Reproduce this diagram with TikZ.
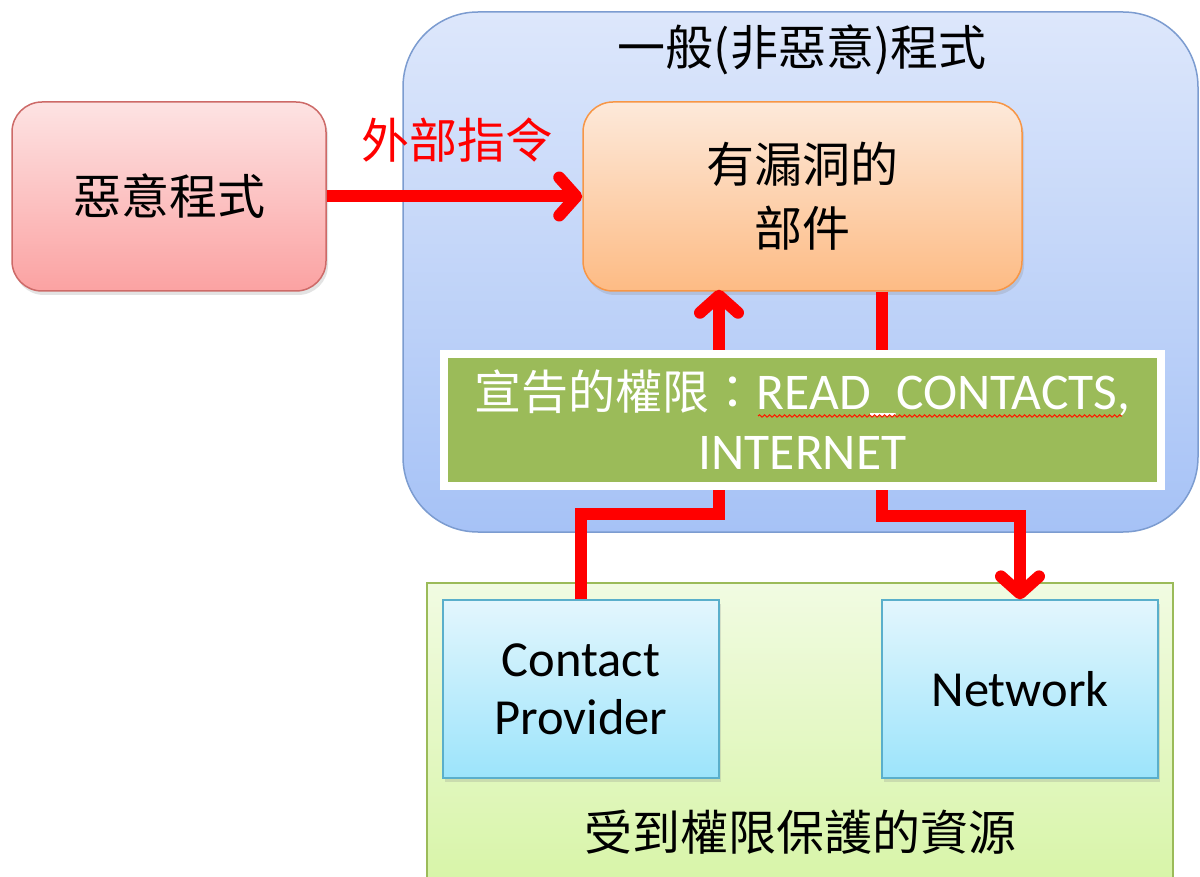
\documentclass[tikz,border=0pt]{standalone}
\usepackage{fontspec}
\setmainfont{Carlito}
\newfontfamily\cjk{Noto Sans CJK TC}
\usetikzlibrary{arrows.meta,shadows,decorations.pathmorphing}
\definecolor{bluetop}{HTML}{DDE7FB}
\definecolor{bluebot}{HTML}{A6C2F6}
\definecolor{bluebd}{HTML}{7C9CD0}
\definecolor{redtop}{HTML}{FDE3E3}
\definecolor{redbot}{HTML}{FBA2A2}
\definecolor{redbd}{HTML}{CD6A68}
\definecolor{ortop}{HTML}{FDE9DA}
\definecolor{orbot}{HTML}{FDBB84}
\definecolor{orbd}{HTML}{F79646}
\definecolor{grtop}{HTML}{F1FBE2}
\definecolor{grbot}{HTML}{D5F4A2}
\definecolor{grbd}{HTML}{9BBB59}
\definecolor{cytop}{HTML}{E3F6FD}
\definecolor{cybot}{HTML}{9CE4FB}
\definecolor{cybd}{HTML}{5AAFCB}
\definecolor{permgreen}{HTML}{9BBB59}
\begin{document}
\begin{tikzpicture}[x=1pt,y=-1pt,
  cjktxt/.style={font={\cjk\fontsize{48}{64}\selectfont}},
  lattxt/.style={font={\fontsize{50.5}{58}\selectfont}},
  conn/.style={draw=red, line width=12pt},
  arr/.style={-{Straight Barb[length=17pt,width=38pt,round]}},
  panel/.style={draw, line width=1.5pt, inner sep=0pt, align=center},
  sh/.style={drop shadow={shadow xshift=2pt,shadow yshift=-4pt,opacity=0.22}}
]
\clip (0,0) rectangle (1200,877);
\fill[white] (0,0) rectangle (1200,877);

% outer app
\node[panel, rounded corners=75pt, minimum width=795pt, minimum height=520pt,
      draw=bluebd, top color=bluetop, bottom color=bluebot] (app) at (800.5,272) {};
\node[cjktxt] (apptitle) at (802,50) {一般(非惡意)程式};

% resources
\node[panel, minimum width=746pt, minimum height=330pt,
      draw=grbd, top color=grtop, bottom color=grbot] (res) at (800,748) {};
\node[cjktxt] (restitle) at (800,832) {受到權限保護的資源};

% malicious
\node[panel, rounded corners=30pt, minimum width=314pt, minimum height=189pt,
      draw=redbd, top color=redtop, bottom color=redbot, sh, cjktxt] (mal) at (169,196.5) {惡意程式};

% vulnerable component
\node[panel, rounded corners=30pt, minimum width=439pt, minimum height=189pt,
      draw=orbd, top color=ortop, bottom color=orbot, sh, cjktxt] (vul) at (802.5,196.5) {有漏洞的\\部件};

% resources boxes
\node[panel, line width=1.2pt, minimum width=276pt, minimum height=178pt,
      draw=cybd, top color=cytop, bottom color=cybot, sh, lattxt] (cp) at (581,689) {Contact\\Provider};
\node[panel, line width=1.2pt, minimum width=276pt, minimum height=178pt,
      draw=cybd, top color=cytop, bottom color=cybot, sh, lattxt] (net) at (1020,689) {Network};

% connectors
\draw[conn,arr] (mal.east) -- (vul.west);
\node[cjktxt, text=red] (cmdlbl) at (457,140) {外部指令};
\draw[conn,arr,shorten >=-2pt] (cp.north) -- ++(0,-85) -| ([xshift=-83.5pt]vul.south);
\draw[conn,arr] ([xshift=79.5pt]vul.south) -- ++(0,224) -| (net.north);

% permission box
\node[panel, draw=white, line width=8pt, fill=permgreen, minimum width=717pt, minimum height=132pt,
      text=white, font={\fontsize{51.5}{60}\selectfont}, sh] (perm) at (802.5,420)
      {{\cjk\fontsize{47}{60}\selectfont 宣告的權限：}READ\_CONTACTS,\\INTERNET};
\draw[red!80!orange, line width=1pt, decorate, decoration={snake, segment length=5pt, amplitude=1.2pt}]
  (758,416) -- (1122,416);
\end{tikzpicture}
\end{document}
